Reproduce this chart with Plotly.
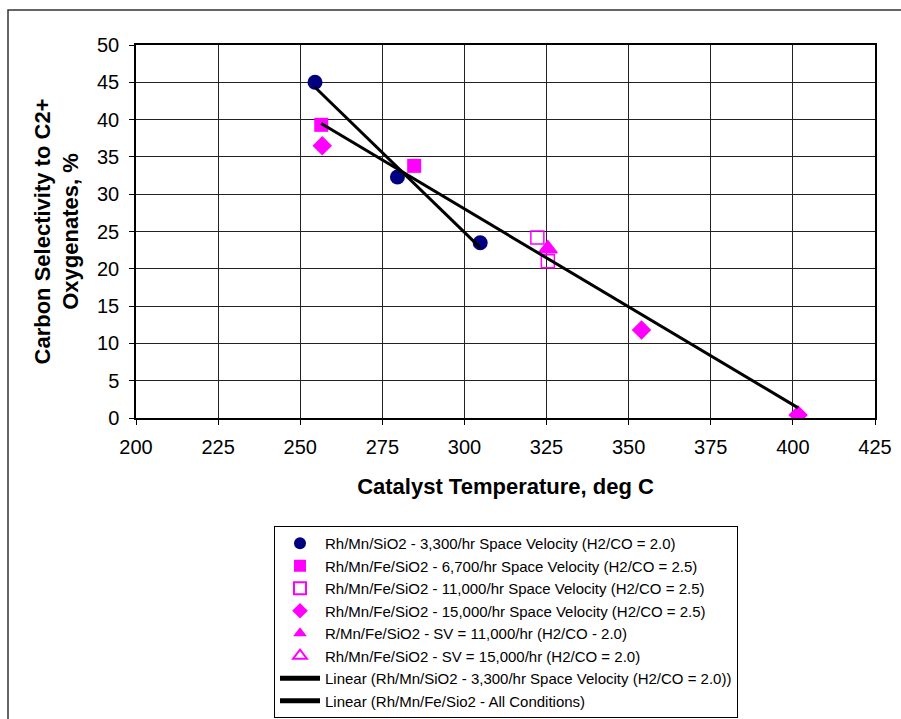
import numpy as np
import plotly.graph_objects as go

# Catalyst temperature (deg C) and carbon selectivity to C2+ oxygenates (%)
rhmn_3300_t = [254.5, 279.6, 304.8]
rhmn_3300_s = [45.0, 32.3, 23.5]

rhmnfe_6700_t = [256.4, 284.7]
rhmnfe_6700_s = [39.3, 33.8]

rhmnfe_11000_t = [322.2, 325.4]
rhmnfe_11000_s = [24.2, 21.0]

rhmnfe_15000_t = [256.7, 353.9, 401.6]
rhmnfe_15000_s = [36.5, 11.8, 0.4]

rmnfe_sv11000_t = [325.4]
rmnfe_sv11000_s = [22.7]

rhmnfe_sv15000_t = [325.4]
rhmnfe_sv15000_s = [22.7]

x_ticks = [200, 225, 250, 275, 300, 325, 350, 375, 400, 425]
y_ticks = [0, 5, 10, 15, 20, 25, 30, 35, 40, 45, 50]

NAVY = "#000080"
MAGENTA = "#FF00FF"
FONT = "Liberation Sans, Arial, sans-serif"

W, H = 901, 719
L, R, T, B = 136, 26, 45, 301


def trend(xs, ys):
    k, b = np.polyfit(xs, ys, 1)
    xe = np.array([min(xs), max(xs)])
    return xe, k * xe + b


fig = go.Figure()

series = [
    ("Rh/Mn/SiO2 - 3,300/hr Space Velocity (H2/CO = 2.0)",
     rhmn_3300_t, rhmn_3300_s, "circle", NAVY),
    ("Rh/Mn/Fe/SiO2 - 6,700/hr Space Velocity (H2/CO = 2.5)",
     rhmnfe_6700_t, rhmnfe_6700_s, "square", MAGENTA),
    ("Rh/Mn/Fe/SiO2 - 11,000/hr Space Velocity (H2/CO = 2.5)",
     rhmnfe_11000_t, rhmnfe_11000_s, "square-open", MAGENTA),
    ("Rh/Mn/Fe/SiO2 - 15,000/hr Space Velocity (H2/CO = 2.5)",
     rhmnfe_15000_t, rhmnfe_15000_s, "diamond", MAGENTA),
    ("R/Mn/Fe/SiO2 - SV = 11,000/hr (H2/CO - 2.0)",
     rmnfe_sv11000_t, rmnfe_sv11000_s, "triangle-up", MAGENTA),
    ("Rh/Mn/Fe/SiO2 - SV = 15,000/hr (H2/CO = 2.0)",
     rhmnfe_sv15000_t, rhmnfe_sv15000_s, "triangle-up-open", MAGENTA),
]

sizes = {"circle": 15, "square": 14, "square-open": 13, "diamond": 15,
         "triangle-up": 16, "triangle-up-open": 16}

for i, (name, xs, ys, sym, col) in enumerate(series):
    fig.add_trace(go.Scatter(
        x=xs, y=ys, mode="markers", name=name, legendrank=i,
        marker=dict(symbol=sym, size=sizes[sym], color=col,
                    line=dict(color=col, width=1.5 if "open" in sym else 0)),
    ))

# Linear fits
fe_t = rhmnfe_6700_t + rhmnfe_11000_t + rhmnfe_15000_t + rmnfe_sv11000_t + rhmnfe_sv15000_t
fe_s = rhmnfe_6700_s + rhmnfe_11000_s + rhmnfe_15000_s + rmnfe_sv11000_s + rhmnfe_sv15000_s

for j, (name, xs, ys) in enumerate([
    ("Linear (Rh/Mn/SiO2 - 3,300/hr Space Velocity (H2/CO = 2.0))", rhmn_3300_t, rhmn_3300_s),
    ("Linear (Rh/Mn/Fe/Sio2 - All Conditions)", fe_t, fe_s),
]):
    tx, ty = trend(xs, ys)
    fig.add_trace(go.Scatter(
        x=tx, y=ty, mode="lines", name=name, legendrank=10 + j,
        line=dict(color="black", width=3),
    ))

pw = W - L - R
ph = H - T - B


def px_x(p):
    return (p - L) / pw


def px_y(p):
    return (H - B - p) / ph


# Chart-area border
fig.add_shape(type="rect", xref="paper", yref="paper",
              x0=px_x(8), x1=px_x(915), y0=px_y(730), y1=px_y(10),
              line=dict(color="#333333", width=1.5), fillcolor="rgba(0,0,0,0)",
              layer="below")

axis_common = dict(
    showgrid=True, gridcolor="#222222", gridwidth=1,
    showline=True, linecolor="black", linewidth=1.5, mirror=True,
    ticks="outside", ticklen=5, tickcolor="black", tickwidth=1,
    tickfont=dict(family=FONT, size=20, color="black"),
    zeroline=False,
)

fig.update_xaxes(
    range=[200, 425], tickvals=x_ticks, ticktext=[str(v) for v in x_ticks],
    ticklabelstandoff=5,
    title=dict(text="<b>Catalyst Temperature, deg C</b>",
               font=dict(family=FONT, size=22, color="black"), standoff=22),
    **axis_common,
)
fig.update_yaxes(
    range=[0, 50], tickvals=y_ticks, ticktext=[str(v) for v in y_ticks],
    ticklabelstandoff=6,
    title=dict(text="<b>Carbon Selectivity to C2+<br>Oxygenates, %</b>",
               font=dict(family=FONT, size=22, color="black"), standoff=12),
    **axis_common,
)

fig.update_layout(
    width=W, height=H,
    margin=dict(l=L, r=R, t=T, b=B, autoexpand=False),
    paper_bgcolor="white", plot_bgcolor="white",
    font=dict(family=FONT, color="black"),
    legend=dict(
        x=px_x(274), y=px_y(526), xanchor="left", yanchor="top",
        bgcolor="white", bordercolor="black", borderwidth=1,
        font=dict(family=FONT, size=15, color="black"),
        tracegroupgap=0, itemsizing="constant",
        itemwidth=40,
    ),
)

fig.write_html("out.html")
